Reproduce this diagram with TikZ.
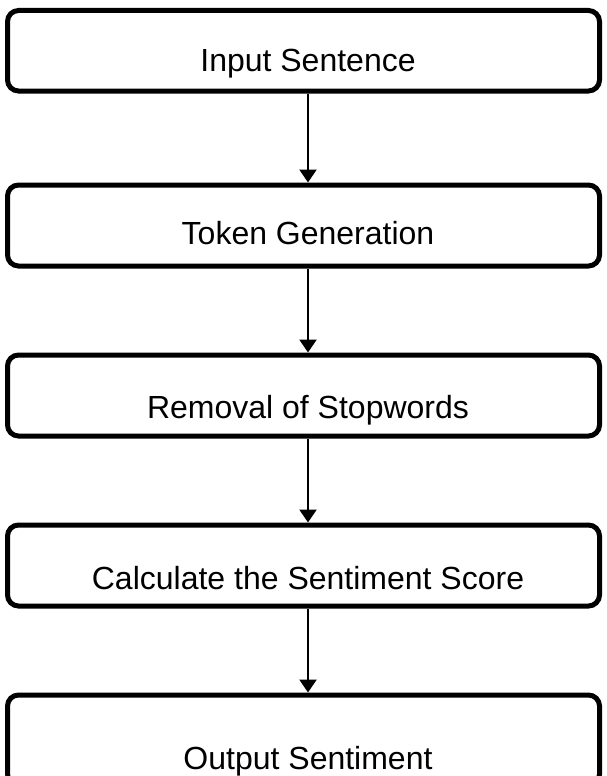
\documentclass[tikz,border=0pt]{standalone}
\usepackage{fontspec}
\setmainfont{Liberation Sans}
\usetikzlibrary{arrows.meta}
\begin{document}
\begin{tikzpicture}[x=1pt,y=1pt,
  stage/.style={draw=black, line width=5pt, rounded corners=11pt,
    minimum width=592pt, inner sep=0pt, fill=white},
  caption/.style={font=\fontsize{32}{38}\selectfont, inner sep=0pt, anchor=base},
  flow/.style={line width=2.5pt, -{Triangle[width=17pt,length=13pt]}}]
  \clip (0,0) rectangle (606,-776);
  \useasboundingbox (0,0) rectangle (606,-776);
  % process boxes
  \node[stage, minimum height=80.5pt] (b1) at (303.5,-50.75) {};
  \node[stage, minimum height=81pt] (b2) at (303.5,-225.5) {};
  \node[stage, minimum height=81pt] (b3) at (303.5,-395.5) {};
  \node[stage, minimum height=81pt] (b4) at (303.5,-565.5) {};
  \node[stage, minimum height=90pt] (b5) at (303.5,-740) {};
  % box captions (placed by baseline)
  \node[caption] (t1) at (308,-71) {Input Sentence};
  \node[caption] (t2) at (308,-244) {Token Generation};
  \node[caption] (t3) at (308,-418) {Removal of Stopwords};
  \node[caption] (t4) at (308,-589) {Calculate the Sentiment Score};
  \node[caption] (t5) at (308,-769) {Output Sentiment};
  % connectors
  \draw[flow] ([xshift=4.5pt]b1.south) -- ([xshift=4.5pt]b2.north);
  \draw[flow] ([xshift=4.5pt]b2.south) -- ([xshift=4.5pt]b3.north);
  \draw[flow] ([xshift=4.5pt]b3.south) -- ([xshift=4.5pt]b4.north);
  \draw[flow] ([xshift=4.5pt]b4.south) -- ([xshift=4.5pt]b5.north);
\end{tikzpicture}
\end{document}
